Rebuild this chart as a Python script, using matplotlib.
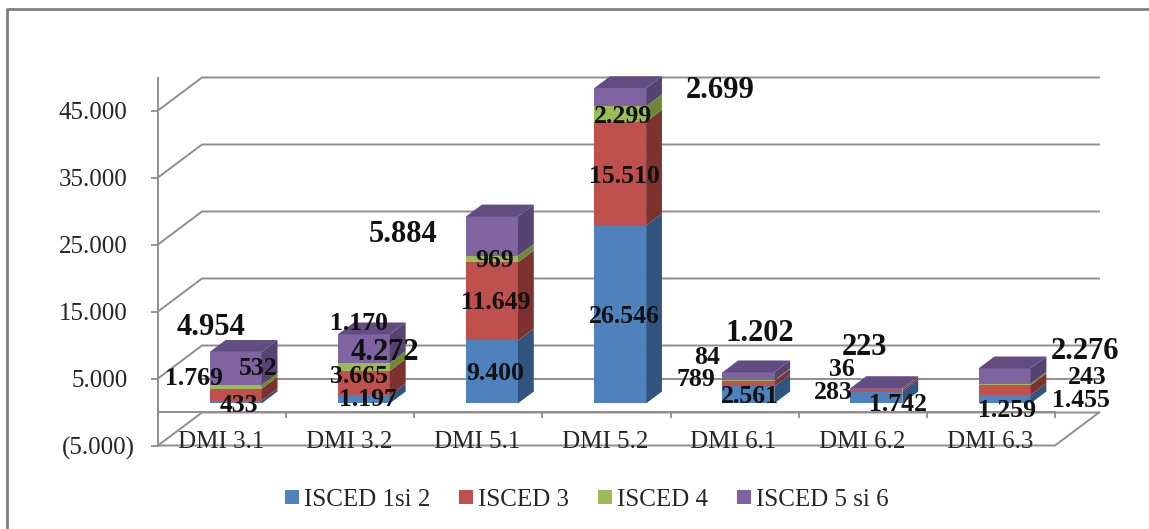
import numpy as np
import matplotlib
matplotlib.use('Agg')
import matplotlib.pyplot as plt
from matplotlib.lines import Line2D
from matplotlib.patches import Polygon
from matplotlib.transforms import ScaledTranslation

categories = ['DMI 3.1', 'DMI 3.2', 'DMI 5.1', 'DMI 5.2', 'DMI 6.1', 'DMI 6.2', 'DMI 6.3']
isced_1_2 = [433, 1197, 9400, 26546, 2561, 1742, 1259]
isced_3 = [1769, 3665, 11649, 15510, 789, 283, 1455]
isced_4 = [532, 1170, 969, 2299, 84, 36, 243]
isced_5_6 = [4954, 4272, 5884, 2699, 1202, 223, 2276]

series = [isced_1_2, isced_3, isced_4, isced_5_6]
names = ['ISCED 1si 2', 'ISCED 3', 'ISCED 4', 'ISCED 5 si 6']
front_col = ['#4f81bd', '#c0504d', '#9bbb59', '#8064a2']
side_col = ['#30557f', '#7d3230', '#6b8a35', '#574372']
top_col = ['#3d6594', '#96403d', '#7d9c45', '#624c80']

# labels were moved by hand in the original, pixel offsets from the segment centre
nudge = [
    [(3, -2), (4, 1), (3, 0), (4, -1), (2, 0), (22, -5), (2, -10)],
    [(-42, 18), (-5, 8), (4, 0), (4, -1), (-52, 6), (-43, 0), (76, -9)],
    [(23, 20), (-5, 45), (3, 0), (3, -1), (-41, 25), (-35, 22), (83, 8)],
    [(-25, 43), (21, -2), (-89, 3), (100, 8), (11, 44), (-12, 43), (80, 26)],
]
label_size = [18.5, 18.5, 18.5, 22]

W, H = 1149, 529
DEPTH_X = 44 / 128.1  # wall depth in category units
DEPTH_Y = 33 / 67 * 10000  # wall depth in value units
BAR_W = 0.405
BAR_FRONT, BAR_BACK = 0.31, 0.67
GREY = '#8f8f8f'
LINE_W = 1.4

plt.rcParams['font.family'] = ['Liberation Serif', 'DejaVu Serif']

fig = plt.figure(figsize=(W / 100, H / 100), dpi=100)
ax = fig.add_axes([158 / W, 1 - 445.5 / H, 897 / W, (445.5 - 78) / H])
ax.set_xlim(-0.5, 6.5)
ax.set_ylim(-5000, -5000 + (445.5 - 78) / 67 * 10000)


def sheared(x, y, depth):
    return x + depth * DEPTH_X, y + depth * DEPTH_Y


# walls
grid = [45000, 35000, 25000, 15000, 5000, -5000]
for g in grid:
    bx, by = sheared(6.5, g, 1)
    lx, ly = sheared(-0.5, g, 1)
    ax.plot([-0.5, lx, bx], [g, ly, by], color=GREY, lw=LINE_W, clip_on=False, zorder=1)
lx, ly = sheared(-0.5, 0, 1)
rx, ry = sheared(6.5, 0, 1)
ax.plot([lx, rx], [ly, ry], color=GREY, lw=LINE_W, clip_on=False, zorder=1)
rx, ry = sheared(6.5, -5000, 1)
ax.plot([-0.5, 6.5, rx], [-5000, -5000, ry], color=GREY, lw=LINE_W, clip_on=False, zorder=1)

# bars
xpos = np.arange(len(categories)) + BAR_FRONT * DEPTH_X
ypos_shift = 0.26 * DEPTH_Y
bottoms = np.zeros(len(categories))
for s, vals in enumerate(series):
    vals = np.array(vals, dtype=float)
    ax.bar(xpos, vals, BAR_W, bottom=bottoms + ypos_shift, color=front_col[s], label=names[s],
           clip_on=False, zorder=3)
    d = (BAR_BACK - BAR_FRONT)
    for i in range(len(categories)):
        x1 = xpos[i] + BAR_W / 2
        y0 = bottoms[i] + ypos_shift
        y1 = y0 + vals[i]
        dx, dy = d * DEPTH_X, d * DEPTH_Y
        ax.add_patch(Polygon([(x1, y0), (x1 + dx, y0 + dy), (x1 + dx, y1 + dy), (x1, y1)],
                             facecolor=side_col[s], edgecolor='none', clip_on=False, zorder=3))
        if s == len(series) - 1:
            x0 = xpos[i] - BAR_W / 2
            ax.add_patch(Polygon([(x0, y1), (x1, y1), (x1 + dx, y1 + dy), (x0 + dx, y1 + dy)],
                                 facecolor=top_col[s], edgecolor='none', clip_on=False, zorder=3))
        ax.annotate(f'{int(vals[i]):,}'.replace(',', '.'),
                    xy=(xpos[i], y0 + vals[i] / 2),
                    xytext=(nudge[s][i][0], nudge[s][i][1] - 1.5), textcoords='offset pixels',
                    ha='center', va='center', fontsize=label_size[s], fontweight='bold',
                    color='#111111', zorder=5, annotation_clip=False)
    bottoms = bottoms + vals

# axes
for side in ['top', 'right']:
    ax.spines[side].set_visible(False)
ax.spines['left'].set_color(GREY)
ax.spines['left'].set_linewidth(LINE_W)
ax.spines['bottom'].set_position(('data', 0))
ax.spines['bottom'].set_color(GREY)
ax.spines['bottom'].set_linewidth(LINE_W)
ax.set_yticks(grid)
ax.set_yticklabels(['45.000', '35.000', '25.000', '15.000', '5.000', '(5.000)'])
ax.tick_params(axis='y', length=5, width=1.3, color=GREY, labelsize=18, labelcolor='#262626', pad=17)
ax.set_xticks(np.arange(0.5, 7))
ax.set_xticklabels([])
ax.set_xticks(np.arange(7), labels=categories, minor=True)
ax.tick_params(axis='x', which='major', length=4, width=1.3, color=GREY)
ax.tick_params(axis='x', which='minor', length=0, labelsize=18, labelcolor='#262626', pad=14)
# closing bracket hangs past the other labels
neg = ax.get_yticklabels()[-1]
neg.set_transform(neg.get_transform() + ScaledTranslation(7 / 100, 0, fig.dpi_scale_trans))
for lab in ax.get_xticklabels(minor=True):
    lab.set_transform(lab.get_transform() + ScaledTranslation(-1 / 100, 0, fig.dpi_scale_trans))

leg = ax.legend(loc='center', bbox_to_anchor=(587 / W, 1 - 500 / H), bbox_transform=fig.transFigure,
                ncol=4, frameon=False, fontsize=18, labelcolor='#262626', handlelength=0.56,
                handleheight=0.5, handletextpad=0.2, columnspacing=1.16)

# outer chart border
fig.add_artist(Line2D([7 / W, 7 / W, 1], [0, 1 - 9 / H, 1 - 9 / H], color='#7f7f7f', lw=2))

fig.savefig('out.png', dpi=100, facecolor='white')
